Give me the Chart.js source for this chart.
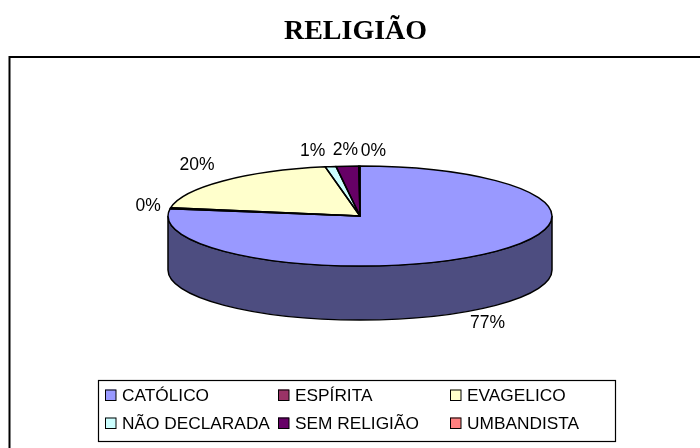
<!DOCTYPE html>
<html><head><meta charset="utf-8">
<style>html,body{margin:0;padding:0;background:#fff;overflow:hidden}canvas{display:block}</style>
<script src="https://cdn.jsdelivr.net/npm/chart.js@4"></script></head>
<body><canvas id="c" width="711" height="448"></canvas>
<script>
const categories = ['CATÓLICO','ESPÍRITA','EVAGELICO','NÃO DECLARADA','SEM RELIGIÃO','UMBANDISTA'];
const shares = [77.3,0.3,19.5,0.9,1.9,0.1];
const percentLabels = ['77%','0%','20%','1%','2%','0%'];
const sliceColors = ['#9999FF','#993366','#FFFFCC','#CCFFFF','#660066','#FF8080'];
const wallColors = ['#4D4D80','#4D1A33','#808066','#668080','#330033','#804040'];
const OUT = '#000';
const G = {cx:360, cy:216, rx:192, ry:50, depth:54};
const labelOffsets = [[2,15],[-22,-2],[-26,-16],[-18,-15],[-2,-16],[14,-15]];
const flatten = {
  id:'flatten',
  beforeDatasetsDraw(chart){
    const ctx = chart.ctx, arcs = chart.getDatasetMeta(0).data;
    const R = arcs[0].outerRadius, ax = arcs[0].x, ay = arcs[0].y;
    ctx.save();
    ctx.lineWidth = 1.5; ctx.strokeStyle = OUT;
    arcs.forEach((a,i)=>{
      const s = Math.max(a.startAngle,0), e = Math.min(a.endAngle,Math.PI);
      if (e<=s) return;
      ctx.beginPath();
      ctx.ellipse(G.cx,G.cy,G.rx,G.ry,0,s,e);
      ctx.ellipse(G.cx,G.cy+G.depth,G.rx,G.ry,0,e,s,true);
      ctx.closePath();
      ctx.fillStyle = wallColors[i]; ctx.fill(); ctx.stroke();
    });
    ctx.restore();
    ctx.save();
    ctx.translate(G.cx,G.cy);
    ctx.scale(G.rx/R,G.ry/R);
    ctx.translate(-ax,-ay);
  },
  afterDatasetsDraw(chart){
    const ctx = chart.ctx, arcs = chart.getDatasetMeta(0).data;
    ctx.restore();
    ctx.save();
    ctx.lineWidth = 1.5; ctx.strokeStyle = OUT; ctx.lineJoin='round';
    arcs.forEach(a=>{
      ctx.beginPath();
      ctx.moveTo(G.cx,G.cy);
      ctx.ellipse(G.cx,G.cy,G.rx,G.ry,0,a.startAngle,a.endAngle);
      ctx.closePath();
      ctx.stroke();
    });
    ctx.fillStyle='#000'; ctx.font='17.5px "Liberation Sans"'; ctx.textAlign='center'; ctx.textBaseline='middle';
    arcs.forEach((a,i)=>{
      const m=(a.startAngle+a.endAngle)/2;
      const x=G.cx+G.rx*Math.cos(m), y=G.cy+G.ry*Math.sin(m)+(Math.sin(m)>0?G.depth:0);
      ctx.fillText(percentLabels[i],x+labelOffsets[i][0],y+labelOffsets[i][1]);
    });
    ctx.restore();
  },
  afterDraw(chart){
    const ctx=chart.ctx;
    ctx.save();
    ctx.strokeStyle='#000'; ctx.lineWidth=2;
    ctx.beginPath();
    ctx.moveTo(9.5,448); ctx.lineTo(9.5,57); ctx.lineTo(711,57);
    ctx.stroke();
    ctx.lineWidth=1.2; ctx.strokeRect(98.5,380.5,517,61);
    const cols=[[105,122],[278,295],[450,467]], rows=[395,423];
    ctx.font='17.3px "Liberation Sans"'; ctx.textBaseline='middle'; ctx.textAlign='left';
    categories.forEach((t,i)=>{
      const c=cols[i%3], y=rows[Math.floor(i/3)];
      ctx.fillStyle=sliceColors[i]; ctx.fillRect(c[0],y-5.5,11,11);
      ctx.strokeStyle='#000'; ctx.lineWidth=1; ctx.strokeRect(c[0]+.5,y-5,10.5,10.5);
      ctx.fillStyle='#000'; ctx.fillText(t,c[1],y+1);
    });
    ctx.restore();
  }
};
new Chart(document.getElementById('c'),{
  type:'pie',
  data:{labels:categories,datasets:[{data:shares,backgroundColor:sliceColors,borderWidth:0}]},
  options:{
    responsive:false,animation:false,
    layout:{padding:0},
    plugins:{
      legend:{display:false},tooltip:{enabled:false},
      title:{display:true,text:'RELIGIÃO',color:'#000',font:{family:'"Liberation Serif"',size:28,weight:'bold'},padding:{top:15,bottom:10}}
    }
  },
  plugins:[flatten]
});
</script></body></html>
